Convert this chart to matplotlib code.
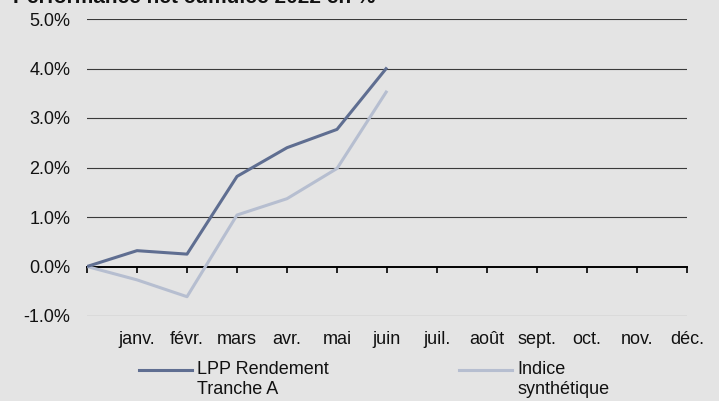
import matplotlib
matplotlib.use("Agg")
import matplotlib.pyplot as plt
from matplotlib.lines import Line2D
from matplotlib.ticker import FuncFormatter

plt.rcParams['font.family'] = ['Liberation Sans', 'DejaVu Sans']

# Cumulative net performance 2022, in %
months = ["janv.", "févr.", "mars", "avr.", "mai", "juin",
          "juil.", "août", "sept.", "oct.", "nov.", "déc."]
lpp_rendement = [0.0, 0.32, 0.25, 1.82, 2.40, 2.77, 4.02]
indice_synth = [0.0, -0.27, -0.61, 1.04, 1.37, 1.98, 3.55]

labels_lpp = ("LPP Rendement", "Tranche A")
labels_ind = ("Indice", "synthétique")

bg = "#e4e4e4"
c_lpp = "#5f6e91"
c_ind = "#b6bed0"
txt = "#111111"
fs = 13
W, H = 719, 401

fig = plt.figure(figsize=(W / 100, H / 100), dpi=100, facecolor=bg)
ax = fig.add_axes([87 / W, 1 - 316 / H, 600 / W, 297 / H], facecolor=bg)

ax.set_xlim(0, 12)
ax.set_ylim(-1, 5)

# horizontal gridlines
for v in [-1, 1, 2, 3, 4, 5]:
    ax.axhline(v, color="#3a3a3a", lw=0.8, zorder=1)

x = list(range(len(lpp_rendement)))
ax.plot(x, indice_synth, color=c_ind, lw=2.2, zorder=3, solid_capstyle="butt")
ax.plot(x, lpp_rendement, color=c_lpp, lw=2.2, zorder=4, solid_capstyle="butt")

for s in ["top", "right", "left"]:
    ax.spines[s].set_visible(False)

# zero line carries the tick marks
ax.spines["bottom"].set_position(("data", 0))
ax.spines["bottom"].set_color("black")
ax.spines["bottom"].set_linewidth(1.4)
ax.spines["bottom"].set_zorder(2)
ax.set_xticks(range(0, 13))
ax.tick_params(axis="x", direction="out", length=4, width=1.2, color="black",
               labelbottom=False)

ax.set_yticks(range(-1, 6))
ax.yaxis.set_major_formatter(FuncFormatter(lambda v, p: f"{v:.1f}%"))
ax.tick_params(axis="y", length=0, pad=12, labelsize=fs, labelcolor=txt)

# month labels below the plot area
sec = ax.secondary_xaxis(location=0)
sec.set_xticks(range(1, 13), months)
sec.tick_params(length=0, pad=11, labelsize=fs, labelcolor=txt)
sec.spines["bottom"].set_visible(False)

# title (partly above the image edge)
fig.text(13 / W, 1 - 3 / H, "Performance net cumulée 2022 en %", fontsize=15,
         fontweight="bold", ha="left", va="baseline", color=txt)

# legend
def legend_entry(x0, x1, lines):
    y = 1 - 370 / H
    fig.add_artist(Line2D([x0 / W, x1 / W], [y, y], color=lines[0], lw=2.2,
                          transform=fig.transFigure))
    fig.text((x1 + 5) / W, y, lines[1][0], fontsize=fs, ha="left",
             va="center", color=txt)
    fig.text((x1 + 5) / W, 1 - 389 / H, lines[1][1], fontsize=fs, ha="left",
             va="center", color=txt)

legend_entry(139, 192, (c_lpp, labels_lpp))
legend_entry(459, 512, (c_ind, labels_ind))

fig.savefig("out.png", dpi=100, facecolor=bg)
